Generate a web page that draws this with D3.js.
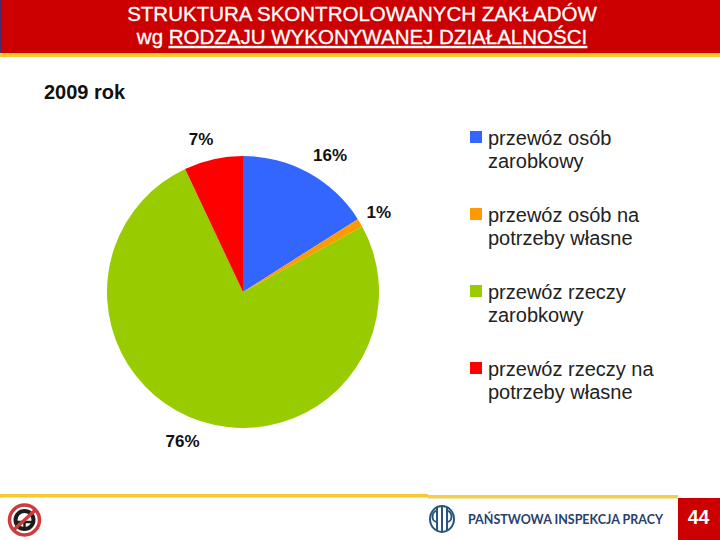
<!DOCTYPE html>
<html>
<head>
<meta charset="utf-8">
<script src="https://cdn.jsdelivr.net/npm/d3@7/dist/d3.min.js"></script>
<style>
html, body { margin: 0; padding: 0; background: #fff; }
svg { display: block; font-family: "Liberation Sans", Arial, sans-serif; }
</style>
</head>
<body>
<div id="chart-area"></div>
<script>
var categories = ["przewóz osób zarobkowy", "przewóz osób na potrzeby własne", "przewóz rzeczy zarobkowy", "przewóz rzeczy na potrzeby własne"];
var legendLines = [["przewóz osób", "zarobkowy"], ["przewóz osób na", "potrzeby własne"], ["przewóz rzeczy", "zarobkowy"], ["przewóz rzeczy na", "potrzeby własne"]];
var shares = [16, 1, 76, 7];
var sliceColors = ["#3366ff", "#ff9900", "#99cc00", "#ff0000"];
var titleLine1 = "STRUKTURA SKONTROLOWANYCH ZAKŁADÓW";
var titlePrefix = "wg ";
var titleUnderlined = "RODZAJU WYKONYWANEJ DZIAŁALNOŚCI";
var yearLabel = "2009 rok";
var footerName = "PAŃSTWOWA INSPEKCJA PRACY";
var pageNumber = "44";

var width = 720, height = 540;
var svg = d3.select("#chart-area").append("svg")
    .attr("width", width)
    .attr("height", height);

// header band
svg.append("rect").attr("width", width).attr("height", 53).attr("fill", "#cc0000");
svg.append("rect").attr("width", 1.5).attr("height", 53).attr("fill", "#4a2a6a");
svg.append("rect").attr("y", 53).attr("width", width).attr("height", 4).attr("fill", "#f7c92e");

svg.append("text")
    .attr("x", 362).attr("y", 21)
    .attr("text-anchor", "middle")
    .attr("font-size", 20.5)
    .attr("fill", "#fff")
    .attr("stroke", "#fff")
    .attr("stroke-width", 0.3)
    .text(titleLine1);

var title2 = svg.append("text")
    .attr("x", 362).attr("y", 44)
    .attr("text-anchor", "middle")
    .attr("font-size", 20.5)
    .attr("fill", "#fff")
    .attr("stroke", "#fff")
    .attr("stroke-width", 0.3);
title2.append("tspan").text(titlePrefix);
title2.append("tspan").attr("text-decoration", "underline").text(titleUnderlined);

svg.append("text")
    .attr("x", 44).attr("y", 99)
    .attr("font-size", 20)
    .attr("font-weight", "bold")
    .attr("fill", "#111")
    .text(yearLabel);

// pie
var cx = 243, cy = 292, radius = 136;
var pie = d3.pie().sort(null)(shares);
var arc = d3.arc().innerRadius(0).outerRadius(radius);
var labelArc = d3.arc().innerRadius(160).outerRadius(160);
var labelNudge = [[10, 3], [-2, 1], [-11, -3], [-7, 3]];

var chart = svg.append("g").attr("transform", "translate(" + cx + "," + cy + ")");

chart.selectAll("path.slice")
    .data(pie)
    .enter().append("path")
    .attr("class", "slice")
    .attr("d", arc)
    .attr("fill", function(d, i){ return sliceColors[i]; });

chart.selectAll("text.pct")
    .data(pie)
    .enter().append("text")
    .attr("class", "pct")
    .attr("transform", function(d, i){
        var c = labelArc.centroid(d);
        return "translate(" + (c[0] + labelNudge[i][0]) + "," + (c[1] + labelNudge[i][1]) + ")";
    })
    .attr("text-anchor", "middle")
    .attr("dy", "0.36em")
    .attr("font-size", 17)
    .attr("font-weight", "bold")
    .attr("fill", "#111")
    .text(function(d){ return d.value + "%"; });

// legend
var legendY = d3.scalePoint().domain(categories).range([137, 368]);
var legend = svg.selectAll("g.legend")
    .data(categories)
    .enter().append("g")
    .attr("class", "legend")
    .attr("transform", function(d){ return "translate(470," + legendY(d) + ")"; });

legend.append("rect")
    .attr("y", -6).attr("width", 12).attr("height", 12)
    .attr("fill", function(d, i){ return sliceColors[i]; });

legend.each(function(d, i){
    d3.select(this).selectAll("text")
        .data(legendLines[i])
        .enter().append("text")
        .attr("x", 18)
        .attr("y", function(line, j){ return 7.5 + j * 23.5; })
        .attr("font-size", 20)
        .attr("fill", "#222")
        .text(function(line){ return line; });
});

// footer
svg.append("rect").attr("y", 494).attr("width", 428).attr("height", 3.5).attr("fill", "#f7c92e");
svg.append("rect").attr("x", 428).attr("y", 495).attr("width", 250).attr("height", 3.5).attr("fill", "#f2cf4a");
svg.append("rect").attr("x", 678).attr("y", 498).attr("width", 42).attr("height", 42).attr("fill", "#cc0000");
svg.append("text")
    .attr("x", 698.5).attr("y", 524)
    .attr("text-anchor", "middle")
    .attr("font-size", 19.5)
    .attr("font-weight", "bold")
    .attr("fill", "#fff")
    .text(pageNumber);

svg.append("text")
    .attr("x", 468).attr("y", 524)
    .attr("font-family", "Lato, 'Open Sans', sans-serif")
    .attr("font-size", 14)
    .attr("font-weight", "bold")
    .attr("fill", "#27406e")
    .attr("textLength", 195)
    .attr("lengthAdjust", "spacingAndGlyphs")
    .text(footerName);

// PIP logo
var logo = svg.append("g").attr("transform", "translate(442,519)").attr("fill", "none").attr("stroke", "#27557e");
logo.append("ellipse").attr("rx", 12).attr("ry", 13).attr("stroke-width", 2);
logo.append("path").attr("d", "M-5,-11V11M0,-12V12M5,-11V11").attr("stroke-width", 2);
logo.append("path").attr("d", "M-5,-8C-11,-8 -11,3 -5,3M5,-8C11,-8 11,3 5,3").attr("stroke-width", 2);

// no-tachograph icon
var icon = svg.append("g").attr("transform", "translate(24.5,520)").attr("fill", "none");
icon.append("circle").attr("r", 9).attr("stroke", "#1c1c1c").attr("stroke-width", 4);
icon.append("path").attr("d", "M-9,2H9M0,2V9").attr("stroke", "#1c1c1c").attr("stroke-width", 2.5);
icon.append("circle").attr("r", 15).attr("stroke", "#cf3a3f").attr("stroke-width", 3.5);
icon.append("path").attr("d", "M-11,10L11,-10").attr("stroke", "#cf3a3f").attr("stroke-width", 3.5);
</script>
</body>
</html>
